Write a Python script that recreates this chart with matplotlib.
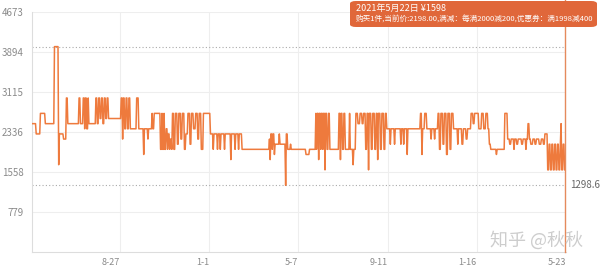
import datetime as dt

import matplotlib.pyplot as plt
import matplotlib.dates as mdates
from matplotlib.patches import FancyBboxPatch

plt.rcParams["font.family"] = ["Noto Sans CJK SC", "DejaVu Sans"]

# price history, run-length: price held for N days
prices = [
    2499, 2299, 2699, 2499, 3999, 1699, 2299, 2199, 2999, 2499, 2999, 2499, 2999, 2399,
    2999, 2399, 2999, 2499, 2999, 2499, 2999, 2599, 2999, 2499, 2999, 2599, 2999, 2599,
    # ---
    2999, 2199, 2999, 2399, 2999, 2399, 2999, 2399, 2999, 2399, 1899, 2399, 2199, 2399,
    2699, 2399, 2699,
    1999, 2699, 1999, 2699, 1999, 2399, 1999, 2299, 1999, 2199, 1999, 2699, 1999,
    2699, 2099, 2699, 2199, 2699, 1999, 2299, 2699, 2099, 2699, 2399, 2699, 2199, 2699,
    1999, 2699,
    # ---
    2299, 1999, 2299, 1999, 2299, 1999, 2299, 1999, 2299, 2299, 1799, 2299, 1999, 2299,
    1999, 2299, 1999, 2199, 1799, 2299, 1999, 2299, 1899, 2099, 2099, 2299, 2099, 1299,
    2299, 1999, 2099, 1999,
    # ---
    1999, 1899, 1999,
    2699, 1999, 2699, 1799, 2699, 1999, 2699, 1999, 2699, 1599, 2699, 1999, 2699, 1999,
    1999, 2699, 1799, 2699, 1999, 2699, 1999, 1999, 2699, 1999, 1699, 1999,
    2699, 2499, 2699, 2499, 2699,
    1999, 2699, 1599, 2699, 1999, 2699, 1999, 2699, 1799, 2699, 1999, 2699, 1999, 2699,
    # ---
    2399, 2099, 2399, 2099, 2399, 2099, 2399, 2099, 2399, 1899, 2399, 2399,
    2699, 1899, 2399, 2699, 2399, 2199, 2399, 2199, 2399,
    2699, 1999, 2699, 2099, 2699, 1899, 2699, 1999, 2699, 2399,
    2399, 2099, 2399, 2099, 2399, 2199, 2399, 2699, 2499, 2699,
    # ---
    2699, 2399, 2699, 2399, 2699, 2399, 2099, 1999, 1899, 1999, 2699,
    2199, 2099, 2199, 1999, 2199, 2099, 2199, 2099, 2199, 1999, 2199, 2499, 2199,
    2099, 2199, 2099, 2199, 2099, 2199, 2099, 2299,
    1599, 2099, 1599, 2099, 1599, 2099, 1599, 2099, 1599, 2099, 2499, 1599, 2099, 1598,
]
durations = [
    6, 6, 7, 13, 6, 1, 6, 4, 2, 16, 2, 4, 2, 1,
    2, 2, 1, 10, 2, 2, 2, 2, 2, 2, 2, 2, 2, 18,
    # ---
    2, 1, 2, 2, 2, 2, 2, 9, 3, 7, 1, 5, 1, 5,
    1, 2, 9,
    2, 1, 2, 1, 2, 2, 1, 2, 1, 2, 1, 2, 2,
    3, 2, 3, 2, 3, 2, 3, 3, 2, 3, 3, 3, 2, 3,
    3, 10,
    # ---
    4, 1, 5, 1, 3, 1, 5, 1, 3, 5, 1, 5, 1, 4,
    1, 4, 39, 1, 1, 2, 1, 2, 1, 2, 4, 1, 8, 1,
    2, 4, 1, 9,
    # ---
    12, 5, 9,
    1, 1, 2, 1, 2, 1, 2, 1, 2, 1, 2, 2, 2, 3,
    10, 2, 1, 2, 2, 2, 2, 4, 1, 4, 1, 3,
    3, 3, 3, 2, 3,
    2, 2, 1, 3, 2, 3, 2, 2, 1, 3, 2, 3, 2, 2,
    # ---
    5, 1, 5, 1, 8, 1, 3, 1, 4, 1, 4, 14,
    2, 1, 3, 3, 6, 1, 4, 1, 4,
    2, 2, 3, 2, 3, 2, 3, 2, 3, 2,
    4, 1, 5, 2, 4, 2, 5, 3, 2, 3,
    # ---
    3, 4, 3, 3, 3, 2, 2, 8, 1, 11, 4,
    3, 2, 4, 1, 3, 2, 5, 2, 4, 1, 2, 2, 2,
    3, 3, 2, 4, 3, 3, 2, 4,
    2, 2, 2, 2, 2, 2, 2, 2, 2, 1, 1, 2, 2, 2,
]

last_day = dt.date(2021, 5, 22)
tick_dates = ["2019-08-27", "2020-01-01", "2020-05-07", "2020-09-11", "2021-01-16", "2021-05-23"]
tick_labels = ["8-27", "1-1", "5-7", "9-11", "1-16", "5-23"]
y_ticks = [779, 1558, 2336, 3115, 3894, 4673]
max_price = 3999
min_price = 1298.6

# expand to daily points
daily = []
for p, n in zip(prices, durations):
    daily += [p] * n
start = last_day - dt.timedelta(days=len(daily) - 1)
dates = [start + dt.timedelta(days=i) for i in range(len(daily))]

line_c = "#ee7a3d"
grid_c = "#eeeeee"
text_c = "#8a8a8a"

fig = plt.figure(figsize=(6, 2.7), dpi=100)
ax = fig.add_axes([32 / 600, 18 / 270, 534 / 600, 240 / 270])

ax.plot(dates, daily, color=line_c, lw=1.1, zorder=3)

ax.set_ylim(0, 4673)
ax.set_xlim(start, dt.date(2021, 5, 23))
ax.set_yticks(y_ticks)
ax.set_yticklabels([str(v) for v in y_ticks])
ax.set_xticks([mdates.datestr2num(d) for d in tick_dates])
ax.set_xticklabels(tick_labels)
ax.tick_params(length=0, labelsize=7, colors=text_c, pad=6)
ax.tick_params(axis="x", pad=4, labelsize=6.5)
for lbl in ax.get_xticklabels():
    lbl.set_horizontalalignment("right")
ax.grid(True, color=grid_c, lw=0.8)
ax.set_axisbelow(True)
for s in ["top", "right"]:
    ax.spines[s].set_visible(False)
for s in ["left", "bottom"]:
    ax.spines[s].set_color("#dddddd")
    ax.spines[s].set_linewidth(0.8)

# max / min mark lines
for v in (max_price, min_price):
    ax.axhline(v, color="#aaaaaa", lw=0.8, ls=(0, (1, 2)), zorder=2)
ax.text(1.008, min_price, f"{min_price:.1f}", transform=ax.get_yaxis_transform(),
        fontsize=7, color="#666666", va="center", ha="left")

# cursor line
ax.axvline(dates[-1], ymin=0, ymax=1.06, color="#e58a5c", lw=1, clip_on=False, zorder=4)

# tooltip
box = FancyBboxPatch((350 / 600, 243 / 270), 247 / 600, 26 / 270,
                     boxstyle="round,pad=0,rounding_size=0.01",
                     transform=fig.transFigure, facecolor="#e0673a",
                     edgecolor="none", zorder=10)
fig.patches.append(box)
fig.text(356 / 600, 262 / 270, "2021年5月22日 ¥1598", color="white", fontsize=6.5,
         va="center", ha="left", zorder=11)
fig.text(356 / 600, 250 / 270,
         "购买1件,当前价:2198.00,满减：每满2000减200,优惠券：满1998减400",
         color="white", fontsize=5.5, va="center", ha="left", zorder=11)

# watermark
fig.text(490 / 600, 30 / 270, "知乎 @秋秋", color="#c8c8c8", fontsize=13,
         va="center", ha="left", alpha=0.9)

fig.savefig("out.png", dpi=100)
